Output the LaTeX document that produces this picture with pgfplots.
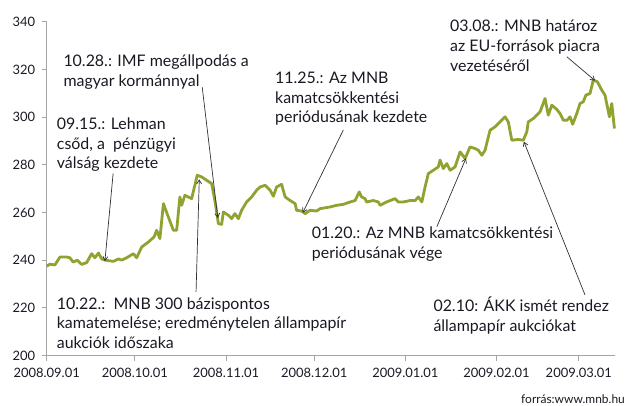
\documentclass[border=0pt]{standalone}
\usepackage{pgfplots}
\pgfplotsset{compat=1.18}
\usepackage{fontspec}
\setmainfont{Lato}
\usetikzlibrary{arrows.meta}
\definecolor{linegreen}{RGB}{142,163,48}
\definecolor{axgray}{RGB}{165,165,165}
\definecolor{txt}{RGB}{25,25,35}
\pgfplotstableread{
day val
0 237.5
1.1 238.3
2.8 238.0
4.5 241.3
6.8 241.3
7.9 241.0
9.0 239.2
10.4 240.0
11.9 238.2
13.6 239.0
15.3 242.7
16.4 241.0
17.6 243.0
18.7 240.5
19.8 240.0
22.7 239.5
24.4 240.5
25.5 240.0
27.2 241.0
29.5 242.7
30.6 241.0
32.3 245.5
34.6 247.6
36.5 249.7
37.4 252.5
38.5 249.0
39.7 263.7
41.4 258.0
43.1 252.5
44.2 252.5
45.3 266.5
45.9 263.0
47.0 267.2
49.3 265.8
51.2 275.6
52.7 274.9
56.1 272.1
57.2 265.0
58.4 255.3
59.5 255.0
60.1 260.2
61.8 258.8
62.9 257.4
64.0 259.5
65.2 257.4
66.3 260.9
68.0 264.4
69.7 266.5
71.4 269.3
72.6 270.7
74.3 271.4
76.0 269.3
77.1 266.8
78.2 270.7
79.9 271.8
81.1 266.5
82.8 265.0
84.5 263.7
85.0 260.9
86.7 260.6
87.9 259.5
89.6 260.9
91.8 260.6
93.0 261.6
96.4 262.3
98.6 263.0
100.9 263.4
103.2 264.4
104.9 265.0
106.3 268.6
107.1 266.5
108.3 265.8
108.8 264.4
111.1 265.0
112.8 264.4
113.4 263.0
115.6 264.4
118.5 265.8
119.6 264.4
121.3 264.4
123.6 265.0
125.3 265.0
126.4 266.5
127.6 264.4
128.7 270.7
129.8 276.3
131.5 277.7
133.2 279.1
133.8 282.0
134.9 278.4
136.1 280.5
137.2 277.7
138.9 279.1
140.6 285.4
142.3 282.6
144.0 287.5
145.7 286.8
146.8 286.1
148.0 284.0
149.1 286.1
150.8 294.5
152.5 295.9
155.9 300.1
157.0 298.0
158.2 290.3
160.4 290.6
162.1 290.3
163.3 293.8
163.8 298.0
165.5 299.4
167.8 302.2
169.5 307.8
170.6 300.8
171.8 305.0
173.5 303.2
174.6 301.5
175.7 298.7
177.0 298.7
178.0 300.1
178.9 297.0
180.3 301.5
181.4 305.7
182.5 306.4
183.4 309.2
184.8 309.9
185.9 315.5
187.3 314.8
188.8 311.3
189.9 309.2
191.4 300.1
192.2 305.7
193.1 295.2
}\datatable
\newcommand{\af}{\fontsize{16}{19}\selectfont}
\begin{document}
\begin{tikzpicture}[x=1bp,y=1bp]
\path[use as bounding box] (0,0) rectangle (630,-405);
\begin{axis}[
  at={(46.7bp,-355.5bp)}, anchor=south west,
  scale only axis, width=568.3bp, height=333.8bp,
  xmin=0, xmax=193.3, ymin=200, ymax=340,
  axis lines=left,
  axis line style={-, draw=axgray, line width=0.9bp},
  xtick={0,30,61,91,122,153,181},
  xticklabels={2008.09.01,2008.10.01,2008.11.01,2008.12.01,2009.01.01,2009.02.01,2009.03.01},
  ytick={200,220,...,340},
  tick align=outside, major tick length=5bp,
  tick style={draw=axgray, line width=0.9bp},
  ticklabel style={font=\fontsize{13}{15}\selectfont, text=txt},
  yticklabel style={/pgf/number format/assume math mode=true, /pgf/number format/1000 sep={}, xshift=-3bp},
  xticklabel style={yshift=-4bp},
  clip=false,
]
\addplot[linegreen, line width=2.8bp, line join=round, no markers] table[x=day,y=val] {\datatable};
\begin{scope}[draw=txt!90, line width=0.7bp, -{Straight Barb[length=4bp,width=5bp]}]
\draw (axis cs:22.6,276.4) -- (axis cs:19.8,239.6);
\draw (axis cs:52.9,312.5) -- (axis cs:58.2,257.7);
\draw (axis cs:50.8,226.7) -- (axis cs:51.9,273.9);
\draw (axis cs:100.9,294.6) -- (axis cs:87.1,259.9);
\draw (axis cs:132.7,254.0) -- (axis cs:142.6,282.7);
\draw (axis cs:183.1,225.4) -- (axis cs:162.3,289.7);
\draw (axis cs:176.9,325.3) -- (axis cs:186.5,315.3);
\end{scope}
\end{axis}
\begin{scope}[every node/.style={anchor=base west, inner sep=0pt, text=txt, font=\af}]
% 10.28
\node at (63.3,-66.7) {10.28.: IMF megállpodás a};
\node at (63.3,-86.3) {magyar kormánnyal};
% 09.15
\node at (56.7,-129.3) {09.15.: Lehman};
\node at (56.7,-149.0) {csőd, a\ \ pénzügyi};
\node at (56.7,-168.5) {válság kezdete};
% 11.25
\node at (275,-83.3) {11.25.: Az MNB};
\node at (275,-103.0) {kamatcsökkentési};
\node at (275,-122.7) {periódusának kezdete};
% 03.08
\node at (450,-31.7) {03.08.: MNB határoz};
\node at (450,-51.5) {az EU-források piacra};
\node at (450,-71.2) {vezetéséről};
% 01.20
\node at (311.7,-238.3) {01.20.: Az MNB kamatcsökkentési};
\node at (311.7,-258.0) {periódusának vége};
% 10.22
\node at (56.7,-309.3) {10.22.:\ \ MNB 300 bázispontos};
\node at (56.7,-328.9) {kamatemelése; eredménytelen állampapír};
\node at (56.7,-348.5) {aukciók időszaka};
% 02.10
\node at (433.3,-311.7) {02.10: ÁKK ismét rendez};
\node at (433.3,-331.0) {állampapír aukciókat};
\end{scope}
\node[anchor=base east, inner sep=0pt, text=txt, font=\fontsize{12}{14}\selectfont] at (625,-403) {forrás:www.mnb.hu};
\end{tikzpicture}
\end{document}
